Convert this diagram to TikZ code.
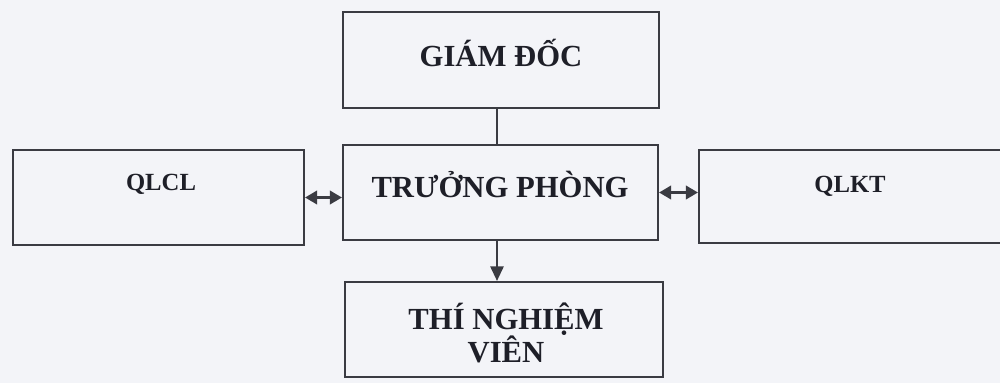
\documentclass[tikz,border=0pt]{standalone}
\usepackage{fontspec}
\setmainfont{Liberation Serif}
\usetikzlibrary{arrows.meta}
\definecolor{bg}{HTML}{F3F4F8}
\definecolor{edge}{HTML}{3A3B42}
\definecolor{ink}{HTML}{1E1F28}
\begin{document}
\begin{tikzpicture}[x=0.75pt,y=-0.75pt,
  box/.style={draw=edge,line width=1.6pt,fill=none,inner sep=0pt},
  bigtxt/.style={text=ink,font=\fontsize{23}{26}\selectfont\bfseries,align=center,inner sep=0pt},
  smalltxt/.style={text=ink,font=\fontsize{18.5}{22}\selectfont\bfseries,inner sep=0pt},
  conn/.style={draw=edge,line width=1.5pt},
  tip/.style={-{Triangle[length=11pt,width=10pt]}},
  dtip/.style={line width=2pt,{Triangle[length=9pt,width=10pt]}-{Triangle[length=9pt,width=10pt]}}]
\fill[bg] (0,0) rectangle (1000,383);
\useasboundingbox (0,0) rectangle (1000,383);
\begin{scope}
\clip (0,0) rectangle (1000,383);
\node[box,minimum width=316*0.75pt,minimum height=96*0.75pt] (gd) at (501,60) {};
\node[box,minimum width=315*0.75pt,minimum height=95*0.75pt] (tp) at (500.5,192.5) {};
\node[box,minimum width=291*0.75pt,minimum height=95*0.75pt] (qlcl) at (158.5,197.5) {};
\node[box,minimum width=310*0.75pt,minimum height=93*0.75pt] (qlkt) at (854,196.5) {};
\node[box,minimum width=318*0.75pt,minimum height=95*0.75pt] (tnv) at (504,329.5) {};
\end{scope}
\node[bigtxt] (gdt) at (501,53) {GIÁM ĐỐC};
\node[bigtxt] (tpt) at (500,184) {TRƯỞNG PHÒNG};
\node[smalltxt] (qlclt) at (161,184) {QLCL};
\node[smalltxt] (qlktt) at (850,186) {QLKT};
\node[bigtxt] (tnvt) at (506,333) {THÍ NGHIỆM\\[-1pt]VIÊN};
\draw[conn] (497,108) coordinate (a1) -- (a1 |- tp.north);
\draw[conn,tip] (497,240) coordinate (a2) -- (a2 |- tnv.north);
\draw[conn,dtip] (qlcl.east) -- (qlcl.east -| tp.west);
\draw[conn,dtip] (tp.east) -- (tp.east -| qlkt.west);
\end{tikzpicture}
\end{document}
